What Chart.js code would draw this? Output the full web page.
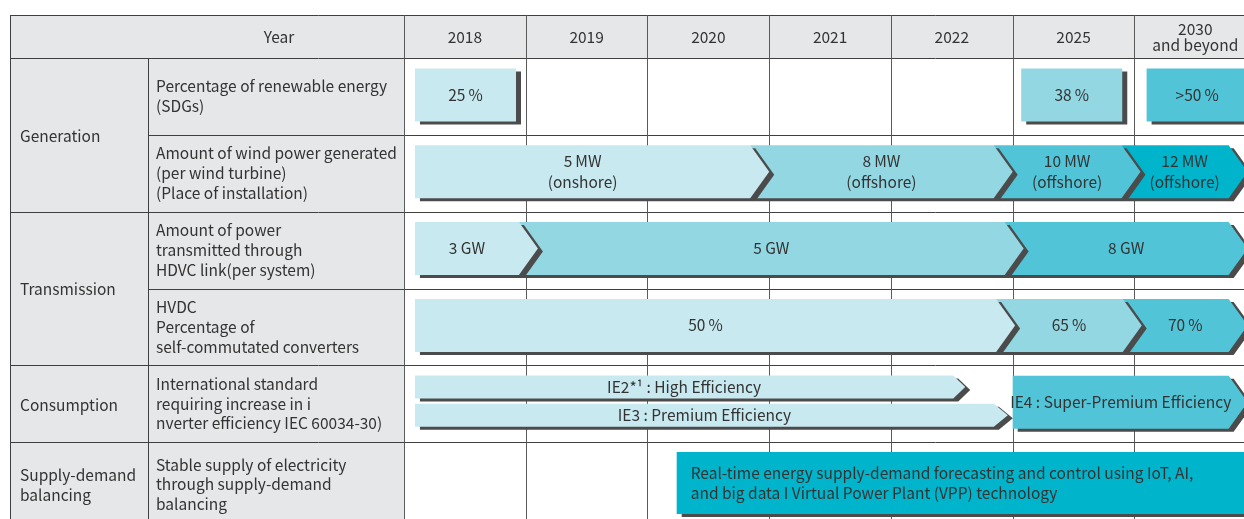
<!DOCTYPE html>
<html>
<head>
<meta charset="utf-8">
<script src="https://cdn.jsdelivr.net/npm/chart.js@4.4.1/dist/chart.umd.min.js"></script>
<style>
  html, body { margin: 0; padding: 0; background: #fff; }
  #wrap { width: 1244px; height: 519px; position: relative; }
</style>
</head>
<body>
<div id="wrap"><canvas id="roadmap"></canvas></div>
<script>
// column headers (x axis works in column units: 2018 = 0..1, 2019 = 1..2, ...)
const years = ['2018', '2019', '2020', '2021', '2022', '2025', ['2030', 'and beyond']];

// left part of the table
const groups = [['Generation'], ['Transmission'], ['Consumption'], ['Supply-demand', 'balancing']];
const groupLanes = [1, 3, 4.5, 5.55];
const items = [
    ['Percentage of renewable energy', '(SDGs)'],
    ['Amount of wind power generated', '(per wind turbine)', '(Place of installation)'],
    ['Amount of power', 'transmitted through', 'HDVC link(per system)'],
    ['HVDC', 'Percentage of', 'self-commutated converters'],
    ['International standard', 'requiring increase in i', 'nverter efficiency IEC 60034-30)'],
    ['Stable supply of electricity', 'through supply-demand', 'balancing'],
];
const itemLanes = [0.5, 1.5, 2.5, 3.5, 4.5, 5.55];
const ieLanes = [4.3, 4.67];

// renewable share targets
const shareLabels = ['25\u2009%', '38\u2009%', '>50\u2009%'];
const shareStart = [0.09, 5.07, 6.1];
const shareEnd = [0.92, 5.9, 6.93];

// wind power per turbine
const windLabels = [['5\u2009MW', '(onshore)'], ['8\u2009MW', '(offshore)'], ['10\u2009MW', '(offshore)'], ['12\u2009MW', '(offshore)']];
const windSteps = [0.09, 3.0, 5.0, 6.05, 6.93];

// HVDC link capacity
const linkLabels = ['3 GW', '5 GW', '8 GW'];
const linkSteps = [0.09, 1.1, 5.09, 6.93];

// self-commutated converter share
const converterLabels = ['50\u2009%', '65\u2009%', '70\u2009%'];
const converterSteps = [0.09, 5.02, 6.06, 6.93];

// inverter efficiency classes
const ie2Label = ['IE2*\u00b9 : High Efficiency'];
const ie2Steps = [0.09, 4.61];
const ie3Label = ['IE3 : Premium Efficiency'];
const ie3Steps = [0.09, 4.96];
const ie4Label = ['IE4 : Super-Premium Efficiency'];
const ie4Steps = [5.0, 6.93];

// supply-demand balancing
const vppLabel = [['Real-time energy supply-demand forecasting and control using IoT, AI,', 'and big data I Virtual Power Plant (VPP) technology']];
const vppSteps = [2.24, 6.95];

const shades = ['#c9e9f0', '#93d7e3', '#52c4d7', '#00b4cb'];
const SHADOW = '#4b4b4b';
const SHADOW_X = 5;
const SHADOW_Y = 3;
const FONT = '"Noto Sans CJK JP", "Noto Sans", sans-serif';
const TEXT = '#333333';

function segments(bounds, lane) {
    return bounds.slice(0, -1).map((start, i) => ({ x: [start, bounds[i + 1]], y: lane }));
}

const datasets = [
    { label: 'Renewable share', data: shareStart.map((s, i) => ({ x: [s, shareEnd[i]], y: itemLanes[0] })),
      texts: shareLabels, backgroundColor: shades.slice(0, 3), barThickness: 53, tip: 0 },
    { label: 'Wind turbine', data: segments(windSteps, itemLanes[1]),
      texts: windLabels, backgroundColor: shades, barThickness: 53, tip: 19 },
    { label: 'HVDC link', data: segments(linkSteps, itemLanes[2]),
      texts: linkLabels, backgroundColor: shades.slice(0, 3), barThickness: 53, tip: 19 },
    { label: 'Converters', data: segments(converterSteps, itemLanes[3]),
      texts: converterLabels, backgroundColor: shades.slice(0, 3), barThickness: 53, tip: 19 },
    { label: 'IE2', data: segments(ie2Steps, ieLanes[0]),
      texts: ie2Label, backgroundColor: [shades[0]], barThickness: 23, tip: 12 },
    { label: 'IE3', data: segments(ie3Steps, ieLanes[1]),
      texts: ie3Label, backgroundColor: [shades[0]], barThickness: 23, tip: 14 },
    { label: 'IE4', data: segments(ie4Steps, itemLanes[4]),
      texts: ie4Label, backgroundColor: [shades[2]], barThickness: 53, tip: 19 },
    { label: 'VPP', data: segments(vppSteps, itemLanes[5]),
      texts: vppLabel, backgroundColor: [shades[3]], barThickness: 62, tip: 0, align: 'left' },
];

function trace(ctx, left, right, top, bottom, tip) {
    const mid = (top + bottom) / 2;
    ctx.beginPath();
    ctx.moveTo(left, top);
    ctx.lineTo(right - tip, top);
    if (tip) ctx.lineTo(right, mid);
    ctx.lineTo(right - tip, bottom);
    ctx.lineTo(left, bottom);
    ctx.closePath();
}

function lines(ctx, text, x, y, lh) {
    const rows = [].concat(text);
    rows.forEach((row, i) => ctx.fillText(row, x, y + (i - (rows.length - 1) / 2) * lh));
}

// grey header / left columns and the grid of the table
const roadmapTable = {
    id: 'roadmapTable',
    beforeDraw(chart) {
        const { ctx, chartArea, scales } = chart;
        const tableLeft = 10, itemLeft = 148, headTop = 15;
        const right = chart.width;
        ctx.save();
        ctx.fillStyle = '#e6e7e9';
        ctx.fillRect(tableLeft, headTop, right - tableLeft, chartArea.top - headTop);
        ctx.fillRect(tableLeft, chartArea.top, chartArea.left - tableLeft, chartArea.bottom - chartArea.top);

        ctx.strokeStyle = '#3f3f3f';
        ctx.lineWidth = 1;
        const hline = (y, x0) => { ctx.beginPath(); ctx.moveTo(x0, y); ctx.lineTo(right, y); ctx.stroke(); };
        const vline = (x, y0) => { ctx.beginPath(); ctx.moveTo(x, y0); ctx.lineTo(x, chartArea.bottom); ctx.stroke(); };
        hline(headTop + 0.5, tableLeft);
        for (let k = 0; k < 6; k++) {
            const py = Math.round(scales.y.getPixelForValue(k)) + 0.5;
            hline(py, (k === 1 || k === 3) ? itemLeft : tableLeft);
        }
        vline(tableLeft + 0.5, headTop);
        vline(itemLeft + 0.5, chartArea.top);
        ctx.strokeStyle = '#5a5a5a';
        for (let i = 0; i < years.length; i++) {
            vline(Math.round(scales.x.getPixelForValue(i)) + 0.5, headTop);
        }

        ctx.fillStyle = TEXT;
        ctx.font = '15.5px ' + FONT;
        ctx.textBaseline = 'middle';
        ctx.textAlign = 'center';
        ctx.fillText('Year', (itemLeft + chartArea.left) / 2 + 3, (headTop + chartArea.top) / 2 + 1);
        ctx.textAlign = 'left';
        groups.forEach((g, i) => lines(ctx, g, 20, scales.y.getPixelForValue(groupLanes[i]) + 1, 20));
        items.forEach((t, i) => lines(ctx, t, 156, scales.y.getPixelForValue(itemLanes[i]), 19.7));
        ctx.restore();
    },
};

// bars drawn as arrow segments with a hard drop shadow, rightmost first
const roadmapBars = {
    id: 'roadmapBars',
    beforeDatasetDraw(chart, args) {
        const ds = chart.data.datasets[args.index];
        const ctx = chart.ctx;
        const bars = args.meta.data;
        ctx.save();
        for (let i = bars.length - 1; i >= 0; i--) {
            const { x, y, base, height } = bars[i].getProps(['x', 'y', 'base', 'height'], true);
            const top = y - (height + SHADOW_Y) / 2;
            const bottom = top + height;
            const left = i > 0 && ds.tip ? base - ds.tip : base;
            trace(ctx, left + SHADOW_X, x + SHADOW_X, top + SHADOW_Y, bottom + SHADOW_Y, ds.tip);
            ctx.fillStyle = SHADOW;
            ctx.fill();
            trace(ctx, left, x, top, bottom, ds.tip);
            ctx.fillStyle = ds.backgroundColor[i];
            ctx.fill();

            ctx.fillStyle = TEXT;
            ctx.font = '15.5px ' + FONT;
            ctx.textBaseline = 'middle';
            if (ds.align === 'left') {
                ctx.textAlign = 'left';
                lines(ctx, ds.texts[i], base + 14, (top + bottom) / 2, 20);
            } else {
                ctx.textAlign = 'center';
                lines(ctx, ds.texts[i], (base + x - ds.tip) / 2, (top + bottom) / 2, 20.5);
            }
        }
        ctx.restore();
        return false;
    },
};

new Chart(document.getElementById('roadmap'), {
    type: 'bar',
    data: { datasets },
    options: {
        indexAxis: 'y',
        animation: false,
        responsive: true,
        maintainAspectRatio: false,
        events: [],
        layout: { padding: { top: 15, left: 404, right: 0, bottom: 0 } },
        datasets: { bar: { grouped: false } },
        scales: {
            x: {
                type: 'linear',
                position: 'top',
                min: 0,
                max: 6.9,
                grid: { display: false, drawTicks: false },
                border: { display: false },
                afterBuildTicks: (axis) => { axis.ticks = years.map((_, i) => ({ value: i + 0.5 })); },
                afterFit: (axis) => {
                    axis.height = 43;
                    axis.paddingLeft = 0;
                    axis.paddingRight = 0;
                },
                ticks: {
                    autoSkip: false,
                    maxRotation: 0,
                    crossAlign: 'center',
                    padding: 13,
                    color: TEXT,
                    font: { family: FONT, size: 15.5, lineHeight: '16px' },
                    callback: (value, index) => years[index],
                },
            },
            y: {
                type: 'linear',
                display: false,
                offset: false,
                reverse: true,
                min: 0,
                max: 6,
            },
        },
        plugins: {
            legend: { display: false },
            tooltip: { enabled: false },
        },
    },
    plugins: [roadmapTable, roadmapBars],
});
</script>
</body>
</html>
